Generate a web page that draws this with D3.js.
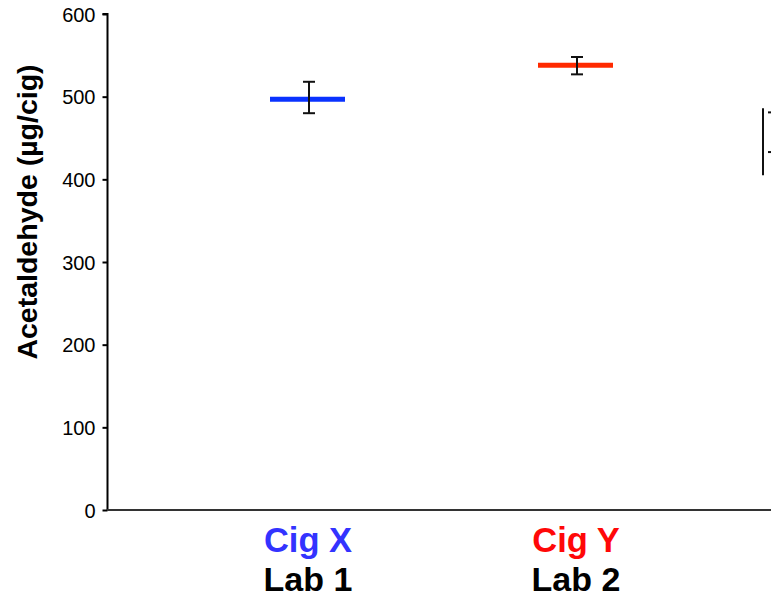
<!DOCTYPE html>
<html>
<head>
<meta charset="utf-8">
<script src="https://cdn.jsdelivr.net/npm/d3@7"></script>
<style>
  html, body { margin: 0; padding: 0; background: #fff; }
  svg { display: block; font-family: "Liberation Sans", Arial, sans-serif; }
</style>
</head>
<body>
<svg id="chart" width="771" height="599"></svg>
<script>
// ---- data ----
const categories = ["Cig X", "Cig Y", "Cig Z"];
const labs = ["Lab 1", "Lab 2", ""];
const means = [497, 538, null];
const errLow = [480, 527, null];
const errHigh = [518, 548, null];
const catColors = ["#3333ff", "#ff0808", "#000"];
const lineColors = ["#0a32ff", "#ff2a00", "#000"];
const yTicks = [0, 100, 200, 300, 400, 500, 600];
// partially visible (clipped) element at the right edge
const partialRange = [405, 486];
const partialTicks = [481, 433];

const svg = d3.select("#chart");
const y = d3.scaleLinear().domain([0, 600]).range([510, 14]);
const x = d3.scalePoint().domain(categories).range([308, 844]);

// axes
const yAxis = d3.axisLeft(y).tickValues(yTicks).tickSize(5).tickPadding(7).tickFormat(d3.format("d"));
const gy = svg.append("g").attr("transform", "translate(107.5,0)").call(yAxis);
gy.select(".domain").attr("stroke", "#000").attr("stroke-width", 2).attr("d", "M-5," + y(600) + "H0V" + y(0));
gy.selectAll(".tick line").attr("stroke", "#000").attr("stroke-width", 2);
gy.selectAll(".tick text").attr("font-size", 20).attr("fill", "#000").attr("dy", "0.36em");

svg.append("line").attr("x1", 107).attr("x2", 771).attr("y1", y(0)).attr("y2", y(0))
  .attr("stroke", "#333").attr("stroke-width", 2);

// y label
svg.append("text")
  .attr("transform", "translate(37," + 212 + ") rotate(-90)")
  .attr("text-anchor", "middle")
  .attr("font-weight", "bold").attr("font-size", 28.5).attr("fill", "#000")
  .text("Acetaldehyde (µg/cig)");

// marks
const data = categories.map((c, i) => ({c, i, m: means[i], lo: errLow[i], hi: errHigh[i]})).filter(d => d.m != null);
const g = svg.append("g");
data.forEach(d => {
  const cx = x(d.c);
  g.append("line").attr("x1", cx - 38).attr("x2", cx + 37).attr("y1", y(d.m)).attr("y2", y(d.m))
    .attr("stroke", lineColors[d.i]).attr("stroke-width", 5);
  const ex = cx + 1;
  g.append("line").attr("x1", ex).attr("x2", ex).attr("y1", y(d.lo)).attr("y2", y(d.hi)).attr("stroke", "#111").attr("stroke-width", 2);
  [d.lo, d.hi].forEach(v => g.append("line").attr("x1", ex - 6).attr("x2", ex + 6).attr("y1", y(v)).attr("y2", y(v)).attr("stroke", "#111").attr("stroke-width", 2));
});

// partial clipped element
svg.append("line").attr("x1", 763).attr("x2", 763).attr("y1", y(partialRange[0])).attr("y2", y(partialRange[1]))
  .attr("stroke", "#111").attr("stroke-width", 2);
partialTicks.forEach(v => svg.append("line").attr("x1", 768).attr("x2", 771).attr("y1", y(v)).attr("y2", y(v))
  .attr("stroke", "#111").attr("stroke-width", 2));

// category labels
categories.forEach((c, i) => {
  if (means[i] == null) return;
  svg.append("text").attr("x", x(c)).attr("y", 551.5).attr("text-anchor", "middle")
    .attr("font-weight", "bold").attr("font-size", 34.5).attr("fill", catColors[i]).text(c);
  svg.append("text").attr("x", x(c)).attr("y", 591).attr("text-anchor", "middle")
    .attr("font-weight", "bold").attr("font-size", 34).attr("fill", "#000").text(labs[i]);
});
</script>
</body>
</html>
